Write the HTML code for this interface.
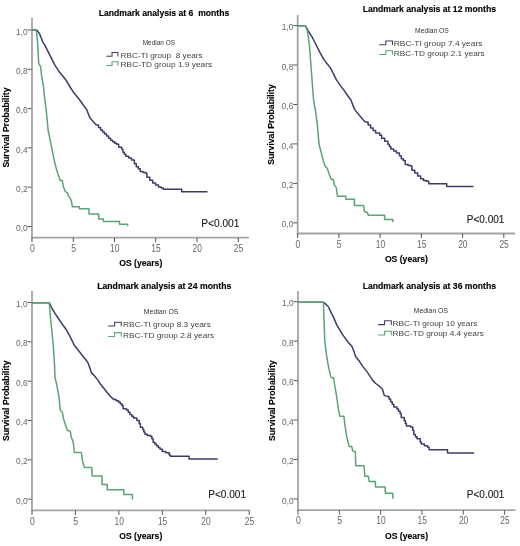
<!DOCTYPE html><html><head><meta charset="utf-8"><style>html,body{margin:0;padding:0;background:#fff;}svg{display:block;}text{font-family:"Liberation Sans",sans-serif;}</style></head><body>
<svg width="520" height="546" viewBox="0 0 520 546">
<defs><filter id="bl" x="0" y="0" width="1" height="1"><feGaussianBlur stdDeviation="0.4"/></filter></defs>
<rect width="520" height="546" fill="#fff"/>
<g filter="url(#bl)">
<line x1="32" y1="18" x2="32" y2="238.4" stroke="#a4a4a4" stroke-width="1.8"/>
<line x1="31.2" y1="237.6" x2="249" y2="237.6" stroke="#a4a4a4" stroke-width="1.8"/>
<line x1="27.5" y1="226.5" x2="31.5" y2="226.5" stroke="#555" stroke-width="1"/>
<text x="27.6" y="231.1" font-size="9.6" fill="#666" text-anchor="end" textLength="11.6" lengthAdjust="spacingAndGlyphs">0,0</text>
<line x1="27.5" y1="187.2" x2="31.5" y2="187.2" stroke="#555" stroke-width="1"/>
<text x="27.6" y="191.8" font-size="9.6" fill="#666" text-anchor="end" textLength="11.6" lengthAdjust="spacingAndGlyphs">0,2</text>
<line x1="27.5" y1="147.9" x2="31.5" y2="147.9" stroke="#555" stroke-width="1"/>
<text x="27.6" y="152.5" font-size="9.6" fill="#666" text-anchor="end" textLength="11.6" lengthAdjust="spacingAndGlyphs">0,4</text>
<line x1="27.5" y1="108.6" x2="31.5" y2="108.6" stroke="#555" stroke-width="1"/>
<text x="27.6" y="113.2" font-size="9.6" fill="#666" text-anchor="end" textLength="11.6" lengthAdjust="spacingAndGlyphs">0,6</text>
<line x1="27.5" y1="69.3" x2="31.5" y2="69.3" stroke="#555" stroke-width="1"/>
<text x="27.6" y="73.9" font-size="9.6" fill="#666" text-anchor="end" textLength="11.6" lengthAdjust="spacingAndGlyphs">0,8</text>
<line x1="27.5" y1="30" x2="31.5" y2="30" stroke="#555" stroke-width="1"/>
<text x="27.6" y="34.6" font-size="9.6" fill="#666" text-anchor="end" textLength="11.6" lengthAdjust="spacingAndGlyphs">1,0</text>
<line x1="32" y1="237.6" x2="32" y2="242.1" stroke="#555" stroke-width="1"/>
<text x="32.3" y="251.7" font-size="10.4" fill="#666" text-anchor="middle" textLength="4.8" lengthAdjust="spacingAndGlyphs">0</text>
<line x1="73.25" y1="237.6" x2="73.25" y2="242.1" stroke="#555" stroke-width="1"/>
<text x="73.55" y="251.7" font-size="10.4" fill="#666" text-anchor="middle" textLength="4.8" lengthAdjust="spacingAndGlyphs">5</text>
<line x1="114.5" y1="237.6" x2="114.5" y2="242.1" stroke="#555" stroke-width="1"/>
<text x="114.8" y="251.7" font-size="10.4" fill="#666" text-anchor="middle" textLength="9.4" lengthAdjust="spacingAndGlyphs">10</text>
<line x1="155.75" y1="237.6" x2="155.75" y2="242.1" stroke="#555" stroke-width="1"/>
<text x="156.05" y="251.7" font-size="10.4" fill="#666" text-anchor="middle" textLength="9.4" lengthAdjust="spacingAndGlyphs">15</text>
<line x1="197" y1="237.6" x2="197" y2="242.1" stroke="#555" stroke-width="1"/>
<text x="197.3" y="251.7" font-size="10.4" fill="#666" text-anchor="middle" textLength="9.4" lengthAdjust="spacingAndGlyphs">20</text>
<line x1="238.25" y1="237.6" x2="238.25" y2="242.1" stroke="#555" stroke-width="1"/>
<text x="238.55" y="251.7" font-size="10.4" fill="#666" text-anchor="middle" textLength="9.4" lengthAdjust="spacingAndGlyphs">25</text>
<text transform="translate(8.8,127.6) rotate(-90)" x="0" y="0" font-size="9" font-weight="bold" fill="#000" stroke="#000" stroke-width="0.12" text-anchor="middle" textLength="80" lengthAdjust="spacingAndGlyphs">Survival Probability</text>
<text x="119.2" y="265.8" font-size="8.6" font-weight="bold" fill="#000" stroke="#000" stroke-width="0.12" textLength="43.1" lengthAdjust="spacingAndGlyphs">OS (years)</text>
<text x="98.7" y="16.3" font-size="9" font-weight="bold" fill="#000" stroke="#000" stroke-width="0.15" textLength="130.5" lengthAdjust="spacingAndGlyphs">Landmark analysis at 6  months</text>
<text x="142.7" y="44.8" font-size="6.6" fill="#333" textLength="32.3" lengthAdjust="spacingAndGlyphs">Median OS</text>
<polyline points="106.3,56.3 112.03,56.3 112.03,52.5 117.9,52.5 117.9,56.6" fill="none" stroke="#3a3d66" stroke-width="1.05"/>
<text x="120.6" y="57.5" font-size="7.5" fill="#444" textLength="82" lengthAdjust="spacingAndGlyphs">RBC-TI group  8 years</text>
<polyline points="106.3,65.5 112.03,65.5 112.03,61.7 117.9,61.7 117.9,65.8" fill="none" stroke="#5aa474" stroke-width="1.05"/>
<text x="120.6" y="66.7" font-size="7.5" fill="#444" textLength="91.5" lengthAdjust="spacingAndGlyphs">RBC-TD group 1.9 years</text>
<text x="201.3" y="226.6" font-size="10" fill="#1a1a1a" stroke="#1a1a1a" stroke-width="0.12" textLength="38.1" lengthAdjust="spacingAndGlyphs">P&lt;0.001</text>
<polyline points="32,30 36.7,30 39.6,33.7 42.5,41.3 45.4,46.2 49.2,53.8 52.1,59.6 55,65.4 58.8,71.2 62.7,76 66.5,80.8 70.4,87.5 74.2,93.3 79,99 83.8,105.8 86.7,109.6 89.6,117.3 93.5,122.1 96.3,125 98.45,125 98.45,127.55 100.6,127.55 100.6,130.1 102.6,130.1 102.6,132.1 104.6,132.1 104.6,134.1 106.6,134.1 106.6,136.1 108.6,136.1 108.6,138.15 110.6,138.15 110.6,140.2 112.65,140.2 112.65,141.7 114.7,141.7 114.7,143.2 116.7,143.2 116.7,144.2 118.7,144.2 118.7,147.2 121.7,147.2 121.7,149.2 122.9,149.2 122.9,152.3 124.35,152.3 124.35,154.25 125.8,154.25 125.8,156.2 128.7,156.2 128.7,158.1 131.5,158.1 131.5,160 134.4,160 134.4,163.8 136.3,163.8 136.3,166.7 138.3,166.7 138.3,168.7 140.2,168.7 140.2,171.5 143.1,171.5 143.1,172.5 146,172.5 146,173.5 146.9,173.5 146.9,177.3 149.8,177.3 149.8,180.2 152.7,180.2 152.7,183.1 155.6,183.1 155.6,185 158.5,185 158.5,186.9 161.3,186.9 161.3,187.9 163.3,187.9 163.3,189.2 181.7,189.2 181.7,191.7 207.5,191.7" fill="none" stroke="#3a3d66" stroke-width="1.5" stroke-linejoin="round"/>
<polyline points="32,30 35.8,30 36.7,32.7 37.7,44.2 38.7,63.5 39.6,65.4 40.6,66.3 41.5,75 42.5,80.8 43.5,86.5 44.4,96.2 45.4,103.8 46.3,111.5 47.3,121.2 48.1,130.1 50.2,140.2 52.2,150.2 54.2,160.3 56.2,168.4 58.2,174.4 60.2,180.5 62.3,180.5 63.3,186.5 65.3,191.6 67.3,192.6 68.3,195.6 70.3,198.6 71.3,200.6 72.3,206.7 79.4,206.7 79.4,208.7 89,208.7 89,214 98.7,214 98.7,219 103.4,219 103.4,221.4 119.5,221.4 119.5,224.3 127.6,224.3 127.6,226.3" fill="none" stroke="#5aa474" stroke-width="1.5" stroke-linejoin="round"/>
<line x1="297.7" y1="15" x2="297.7" y2="234.3" stroke="#a4a4a4" stroke-width="1.8"/>
<line x1="296.9" y1="233.5" x2="515" y2="233.5" stroke="#a4a4a4" stroke-width="1.8"/>
<line x1="293.2" y1="222.8" x2="297.2" y2="222.8" stroke="#555" stroke-width="1"/>
<text x="293.3" y="227.4" font-size="9.6" fill="#666" text-anchor="end" textLength="11.6" lengthAdjust="spacingAndGlyphs">0,0</text>
<line x1="293.2" y1="183.36" x2="297.2" y2="183.36" stroke="#555" stroke-width="1"/>
<text x="293.3" y="187.96" font-size="9.6" fill="#666" text-anchor="end" textLength="11.6" lengthAdjust="spacingAndGlyphs">0,2</text>
<line x1="293.2" y1="143.92" x2="297.2" y2="143.92" stroke="#555" stroke-width="1"/>
<text x="293.3" y="148.52" font-size="9.6" fill="#666" text-anchor="end" textLength="11.6" lengthAdjust="spacingAndGlyphs">0,4</text>
<line x1="293.2" y1="104.48" x2="297.2" y2="104.48" stroke="#555" stroke-width="1"/>
<text x="293.3" y="109.08" font-size="9.6" fill="#666" text-anchor="end" textLength="11.6" lengthAdjust="spacingAndGlyphs">0,6</text>
<line x1="293.2" y1="65.04" x2="297.2" y2="65.04" stroke="#555" stroke-width="1"/>
<text x="293.3" y="69.64" font-size="9.6" fill="#666" text-anchor="end" textLength="11.6" lengthAdjust="spacingAndGlyphs">0,8</text>
<line x1="293.2" y1="25.6" x2="297.2" y2="25.6" stroke="#555" stroke-width="1"/>
<text x="293.3" y="30.2" font-size="9.6" fill="#666" text-anchor="end" textLength="11.6" lengthAdjust="spacingAndGlyphs">1,0</text>
<line x1="297.7" y1="233.5" x2="297.7" y2="238" stroke="#555" stroke-width="1"/>
<text x="298" y="247.6" font-size="10.4" fill="#666" text-anchor="middle" textLength="4.8" lengthAdjust="spacingAndGlyphs">0</text>
<line x1="338.92" y1="233.5" x2="338.92" y2="238" stroke="#555" stroke-width="1"/>
<text x="339.22" y="247.6" font-size="10.4" fill="#666" text-anchor="middle" textLength="4.8" lengthAdjust="spacingAndGlyphs">5</text>
<line x1="380.14" y1="233.5" x2="380.14" y2="238" stroke="#555" stroke-width="1"/>
<text x="380.44" y="247.6" font-size="10.4" fill="#666" text-anchor="middle" textLength="9.4" lengthAdjust="spacingAndGlyphs">10</text>
<line x1="421.36" y1="233.5" x2="421.36" y2="238" stroke="#555" stroke-width="1"/>
<text x="421.66" y="247.6" font-size="10.4" fill="#666" text-anchor="middle" textLength="9.4" lengthAdjust="spacingAndGlyphs">15</text>
<line x1="462.58" y1="233.5" x2="462.58" y2="238" stroke="#555" stroke-width="1"/>
<text x="462.88" y="247.6" font-size="10.4" fill="#666" text-anchor="middle" textLength="9.4" lengthAdjust="spacingAndGlyphs">20</text>
<line x1="503.8" y1="233.5" x2="503.8" y2="238" stroke="#555" stroke-width="1"/>
<text x="504.1" y="247.6" font-size="10.4" fill="#666" text-anchor="middle" textLength="9.4" lengthAdjust="spacingAndGlyphs">25</text>
<text transform="translate(274.2,124.5) rotate(-90)" x="0" y="0" font-size="9" font-weight="bold" fill="#000" stroke="#000" stroke-width="0.12" text-anchor="middle" textLength="80.6" lengthAdjust="spacingAndGlyphs">Survival Probability</text>
<text x="384.9" y="262" font-size="8.6" font-weight="bold" fill="#000" stroke="#000" stroke-width="0.12" textLength="43.1" lengthAdjust="spacingAndGlyphs">OS (years)</text>
<text x="362.7" y="12.1" font-size="9" font-weight="bold" fill="#000" stroke="#000" stroke-width="0.15" textLength="133.3" lengthAdjust="spacingAndGlyphs">Landmark analysis at 12 months</text>
<text x="415" y="32.7" font-size="6.6" fill="#333" textLength="33.9" lengthAdjust="spacingAndGlyphs">Median OS</text>
<polyline points="379.2,44.8 385.73,44.8 385.73,41 392.5,41 392.5,45.1" fill="none" stroke="#3a3d66" stroke-width="1.05"/>
<text x="393.8" y="46" font-size="7.5" fill="#444" textLength="88.6" lengthAdjust="spacingAndGlyphs">RBC-TI group 7.4 years</text>
<polyline points="379.2,54.5 385.73,54.5 385.73,50.7 392.5,50.7 392.5,54.8" fill="none" stroke="#5aa474" stroke-width="1.05"/>
<text x="393.8" y="55.7" font-size="7.5" fill="#444" textLength="90.9" lengthAdjust="spacingAndGlyphs">RBC-TD group 2.1 years</text>
<text x="466.8" y="222.9" font-size="10" fill="#1a1a1a" stroke="#1a1a1a" stroke-width="0.12" textLength="37.6" lengthAdjust="spacingAndGlyphs">P&lt;0.001</text>
<polyline points="297.7,25.8 305.6,25.8 308.5,31.5 312.3,37.3 316.2,45 320,52.7 323.8,59.4 326.7,63.3 330.6,68.1 333.5,73.8 336.3,79.6 340.2,85.4 344,90.2 347.9,96 350.8,99.8 352.7,104.6 354.6,109.4 358.5,114.2 363.3,120 365.6,122.1 368.1,122.1 368.1,125.1 370.6,125.1 370.6,128.1 373.1,128.1 373.1,130.6 375.6,130.6 375.6,133.1 379.7,133.1 379.7,135.2 381.7,135.2 381.7,138.2 384.7,138.2 384.7,141.2 387.9,141.2 387.9,144.2 389.35,144.2 389.35,146.6 390.8,146.6 390.8,149 393.7,149 393.7,151 396.5,151 396.5,152.9 399.4,152.9 399.4,155.8 401.3,155.8 401.3,158.7 403.3,158.7 403.3,160.6 405.2,160.6 405.2,164.4 408.1,164.4 408.1,165.4 411,165.4 411,166.3 411.9,166.3 411.9,170.2 414.8,170.2 414.8,173.1 417.7,173.1 417.7,176 420.6,176 420.6,178.8 423.5,178.8 423.5,180.4 426.3,180.4 426.3,181.2 428.8,181.2 428.8,183.7 446.7,183.7 446.7,186.5 473.5,186.5" fill="none" stroke="#3a3d66" stroke-width="1.5" stroke-linejoin="round"/>
<polyline points="297.7,25.8 305.6,25.8 307.5,31.5 309.4,45 310.4,58.5 311.3,70 312.3,83.5 313.3,96.9 314.2,104.6 315.2,108.5 316.2,116.2 317.2,123.1 318.2,135.2 319.2,145.2 321.2,152.3 323.2,160.4 325.2,166.4 327.3,168.4 329.3,174.5 331.3,179.5 333.3,179.5 334.3,184.6 336.3,187.6 337.5,196.3 345.8,196.3 345.8,199.2 354.4,199.2 354.4,205.4 363.5,205.4 364.5,211.7 367.3,212.5 368.3,215.2 384.6,215.2 384.6,219.4 392.9,219.4 392.9,221.9" fill="none" stroke="#5aa474" stroke-width="1.5" stroke-linejoin="round"/>
<line x1="32" y1="291" x2="32" y2="511.2" stroke="#a4a4a4" stroke-width="1.8"/>
<line x1="31.2" y1="510.4" x2="249.5" y2="510.4" stroke="#a4a4a4" stroke-width="1.8"/>
<line x1="27.5" y1="499.2" x2="31.5" y2="499.2" stroke="#555" stroke-width="1"/>
<text x="27.6" y="503.8" font-size="9.6" fill="#666" text-anchor="end" textLength="11.6" lengthAdjust="spacingAndGlyphs">0,0</text>
<line x1="27.5" y1="459.86" x2="31.5" y2="459.86" stroke="#555" stroke-width="1"/>
<text x="27.6" y="464.46" font-size="9.6" fill="#666" text-anchor="end" textLength="11.6" lengthAdjust="spacingAndGlyphs">0,2</text>
<line x1="27.5" y1="420.52" x2="31.5" y2="420.52" stroke="#555" stroke-width="1"/>
<text x="27.6" y="425.12" font-size="9.6" fill="#666" text-anchor="end" textLength="11.6" lengthAdjust="spacingAndGlyphs">0,4</text>
<line x1="27.5" y1="381.18" x2="31.5" y2="381.18" stroke="#555" stroke-width="1"/>
<text x="27.6" y="385.78" font-size="9.6" fill="#666" text-anchor="end" textLength="11.6" lengthAdjust="spacingAndGlyphs">0,6</text>
<line x1="27.5" y1="341.84" x2="31.5" y2="341.84" stroke="#555" stroke-width="1"/>
<text x="27.6" y="346.44" font-size="9.6" fill="#666" text-anchor="end" textLength="11.6" lengthAdjust="spacingAndGlyphs">0,8</text>
<line x1="27.5" y1="302.5" x2="31.5" y2="302.5" stroke="#555" stroke-width="1"/>
<text x="27.6" y="307.1" font-size="9.6" fill="#666" text-anchor="end" textLength="11.6" lengthAdjust="spacingAndGlyphs">1,0</text>
<line x1="32" y1="510.4" x2="32" y2="514.9" stroke="#555" stroke-width="1"/>
<text x="32.3" y="524.5" font-size="10.4" fill="#666" text-anchor="middle" textLength="4.8" lengthAdjust="spacingAndGlyphs">0</text>
<line x1="75.44" y1="510.4" x2="75.44" y2="514.9" stroke="#555" stroke-width="1"/>
<text x="75.74" y="524.5" font-size="10.4" fill="#666" text-anchor="middle" textLength="4.8" lengthAdjust="spacingAndGlyphs">5</text>
<line x1="118.88" y1="510.4" x2="118.88" y2="514.9" stroke="#555" stroke-width="1"/>
<text x="119.18" y="524.5" font-size="10.4" fill="#666" text-anchor="middle" textLength="9.4" lengthAdjust="spacingAndGlyphs">10</text>
<line x1="162.32" y1="510.4" x2="162.32" y2="514.9" stroke="#555" stroke-width="1"/>
<text x="162.62" y="524.5" font-size="10.4" fill="#666" text-anchor="middle" textLength="9.4" lengthAdjust="spacingAndGlyphs">15</text>
<line x1="205.76" y1="510.4" x2="205.76" y2="514.9" stroke="#555" stroke-width="1"/>
<text x="206.06" y="524.5" font-size="10.4" fill="#666" text-anchor="middle" textLength="9.4" lengthAdjust="spacingAndGlyphs">20</text>
<line x1="249.2" y1="510.4" x2="249.2" y2="514.9" stroke="#555" stroke-width="1"/>
<text x="249.5" y="524.5" font-size="10.4" fill="#666" text-anchor="middle" textLength="9.4" lengthAdjust="spacingAndGlyphs">25</text>
<text transform="translate(8.7,400.8) rotate(-90)" x="0" y="0" font-size="9" font-weight="bold" fill="#000" stroke="#000" stroke-width="0.12" text-anchor="middle" textLength="80.6" lengthAdjust="spacingAndGlyphs">Survival Probability</text>
<text x="119.2" y="538.6" font-size="8.6" font-weight="bold" fill="#000" stroke="#000" stroke-width="0.12" textLength="43.1" lengthAdjust="spacingAndGlyphs">OS (years)</text>
<text x="97.2" y="289.4" font-size="9" font-weight="bold" fill="#000" stroke="#000" stroke-width="0.15" textLength="134.1" lengthAdjust="spacingAndGlyphs">Landmark analysis at 24 months</text>
<text x="143.8" y="314.3" font-size="6.6" fill="#333" textLength="34.7" lengthAdjust="spacingAndGlyphs">Median OS</text>
<polyline points="108.1,326 114.59,326 114.59,322.2 121.3,322.2 121.3,326.3" fill="none" stroke="#3a3d66" stroke-width="1.05"/>
<text x="123.1" y="327.2" font-size="7.5" fill="#444" textLength="87.7" lengthAdjust="spacingAndGlyphs">RBC-TI group 8.3 years</text>
<polyline points="108.1,336.4 114.59,336.4 114.59,332.6 121.3,332.6 121.3,336.7" fill="none" stroke="#5aa474" stroke-width="1.05"/>
<text x="123.1" y="337.6" font-size="7.5" fill="#444" textLength="91.1" lengthAdjust="spacingAndGlyphs">RBC-TD group 2.8 years</text>
<text x="208.3" y="498.2" font-size="10" fill="#1a1a1a" stroke="#1a1a1a" stroke-width="0.12" textLength="37.7" lengthAdjust="spacingAndGlyphs">P&lt;0.001</text>
<polyline points="32,302.7 49.2,302.7 52.1,308.5 55,313.3 58.8,319 62.7,324.8 65.6,328.7 68.5,333.5 71.3,339.2 74.2,345 77.1,348.8 81,353.7 84.8,358.5 87.7,362.3 89.6,367.1 91.5,372.9 94.4,375.8 98.3,380.6 100,383.5 104.6,389.2 109.2,395 113.8,399.6 116.15,399.6 116.15,400.75 118.5,400.75 118.5,401.9 120.2,401.9 120.2,403.65 121.9,403.65 121.9,405.4 123.1,405.4 123.1,408.8 126.5,408.8 126.5,410 128.25,410 128.25,412.3 130,412.3 130,414.6 131.75,414.6 131.75,416.35 133.5,416.35 133.5,418.1 136.9,418.1 136.9,420.4 139.2,420.4 139.2,423.8 140.4,423.8 140.4,427.3 142.7,427.3 142.7,429.6 143.85,429.6 143.85,431.9 145,431.9 145,434.2 147.3,434.2 147.3,435.4 150.8,435.4 150.8,436.5 151.9,436.5 151.9,438.8 153.1,438.8 153.1,442.3 154.8,442.3 154.8,444.05 156.5,444.05 156.5,445.8 158.25,445.8 158.25,447.5 160,447.5 160,449.2 162.3,449.2 162.3,451.5 165.8,451.5 165.8,452.7 169.2,452.7 169.2,455 170.4,455 170.4,456.2 189,456.2 189,458.9 217.7,458.9" fill="none" stroke="#3a3d66" stroke-width="1.5" stroke-linejoin="round"/>
<polyline points="32,302.7 49.2,302.7 50.2,314.2 51.5,327.7 52.7,339.2 53.5,348.8 54.4,362.3 55,377.7 56,381.5 56.9,385.4 57.9,391.2 59.2,398.1 60.2,410.2 62.3,412.2 63.3,418.2 65.3,424.3 67.3,430.3 70.3,431.3 71.3,437.4 73.3,442.4 74.4,452.5 81.4,452.5 82.4,460.6 84.4,467.6 91.7,467.6 92.2,475.9 102,475.9 102,484.5 107.2,484.5 107.2,489.7 123.8,489.7 123.8,494.5 132.4,494.5 132.4,499.5" fill="none" stroke="#5aa474" stroke-width="1.5" stroke-linejoin="round"/>
<line x1="298" y1="291" x2="298" y2="511" stroke="#a4a4a4" stroke-width="1.8"/>
<line x1="297.2" y1="510.2" x2="515.4" y2="510.2" stroke="#a4a4a4" stroke-width="1.8"/>
<line x1="293.5" y1="498.9" x2="297.5" y2="498.9" stroke="#555" stroke-width="1"/>
<text x="293.6" y="503.5" font-size="9.6" fill="#666" text-anchor="end" textLength="11.6" lengthAdjust="spacingAndGlyphs">0,0</text>
<line x1="293.5" y1="459.46" x2="297.5" y2="459.46" stroke="#555" stroke-width="1"/>
<text x="293.6" y="464.06" font-size="9.6" fill="#666" text-anchor="end" textLength="11.6" lengthAdjust="spacingAndGlyphs">0,2</text>
<line x1="293.5" y1="420.02" x2="297.5" y2="420.02" stroke="#555" stroke-width="1"/>
<text x="293.6" y="424.62" font-size="9.6" fill="#666" text-anchor="end" textLength="11.6" lengthAdjust="spacingAndGlyphs">0,4</text>
<line x1="293.5" y1="380.58" x2="297.5" y2="380.58" stroke="#555" stroke-width="1"/>
<text x="293.6" y="385.18" font-size="9.6" fill="#666" text-anchor="end" textLength="11.6" lengthAdjust="spacingAndGlyphs">0,6</text>
<line x1="293.5" y1="341.14" x2="297.5" y2="341.14" stroke="#555" stroke-width="1"/>
<text x="293.6" y="345.74" font-size="9.6" fill="#666" text-anchor="end" textLength="11.6" lengthAdjust="spacingAndGlyphs">0,8</text>
<line x1="293.5" y1="301.7" x2="297.5" y2="301.7" stroke="#555" stroke-width="1"/>
<text x="293.6" y="306.3" font-size="9.6" fill="#666" text-anchor="end" textLength="11.6" lengthAdjust="spacingAndGlyphs">1,0</text>
<line x1="298" y1="510.2" x2="298" y2="514.7" stroke="#555" stroke-width="1"/>
<text x="298.3" y="524.3" font-size="10.4" fill="#666" text-anchor="middle" textLength="4.8" lengthAdjust="spacingAndGlyphs">0</text>
<line x1="339.32" y1="510.2" x2="339.32" y2="514.7" stroke="#555" stroke-width="1"/>
<text x="339.62" y="524.3" font-size="10.4" fill="#666" text-anchor="middle" textLength="4.8" lengthAdjust="spacingAndGlyphs">5</text>
<line x1="380.64" y1="510.2" x2="380.64" y2="514.7" stroke="#555" stroke-width="1"/>
<text x="380.94" y="524.3" font-size="10.4" fill="#666" text-anchor="middle" textLength="9.4" lengthAdjust="spacingAndGlyphs">10</text>
<line x1="421.96" y1="510.2" x2="421.96" y2="514.7" stroke="#555" stroke-width="1"/>
<text x="422.26" y="524.3" font-size="10.4" fill="#666" text-anchor="middle" textLength="9.4" lengthAdjust="spacingAndGlyphs">15</text>
<line x1="463.28" y1="510.2" x2="463.28" y2="514.7" stroke="#555" stroke-width="1"/>
<text x="463.58" y="524.3" font-size="10.4" fill="#666" text-anchor="middle" textLength="9.4" lengthAdjust="spacingAndGlyphs">20</text>
<line x1="504.6" y1="510.2" x2="504.6" y2="514.7" stroke="#555" stroke-width="1"/>
<text x="504.9" y="524.3" font-size="10.4" fill="#666" text-anchor="middle" textLength="9.4" lengthAdjust="spacingAndGlyphs">25</text>
<text transform="translate(274.8,400.55) rotate(-90)" x="0" y="0" font-size="9" font-weight="bold" fill="#000" stroke="#000" stroke-width="0.12" text-anchor="middle" textLength="81" lengthAdjust="spacingAndGlyphs">Survival Probability</text>
<text x="385" y="538.6" font-size="8.6" font-weight="bold" fill="#000" stroke="#000" stroke-width="0.12" textLength="43" lengthAdjust="spacingAndGlyphs">OS (years)</text>
<text x="362.7" y="288.5" font-size="9" font-weight="bold" fill="#000" stroke="#000" stroke-width="0.15" textLength="133.3" lengthAdjust="spacingAndGlyphs">Landmark analysis at 36 months</text>
<text x="413.8" y="313.2" font-size="6.6" fill="#333" textLength="34.2" lengthAdjust="spacingAndGlyphs">Median OS</text>
<polyline points="378.1,324.6 384.59,324.6 384.59,320.8 391.3,320.8 391.3,324.9" fill="none" stroke="#3a3d66" stroke-width="1.05"/>
<text x="392.6" y="325.8" font-size="7.5" fill="#444" textLength="84.7" lengthAdjust="spacingAndGlyphs">RBC-TI group 10 years</text>
<polyline points="378.1,335 384.59,335 384.59,331.2 391.3,331.2 391.3,335.3" fill="none" stroke="#5aa474" stroke-width="1.05"/>
<text x="392.6" y="336.2" font-size="7.5" fill="#444" textLength="91.2" lengthAdjust="spacingAndGlyphs">RBC-TD group 4.4 years</text>
<text x="466.8" y="498.2" font-size="10" fill="#1a1a1a" stroke="#1a1a1a" stroke-width="0.12" textLength="37.6" lengthAdjust="spacingAndGlyphs">P&lt;0.001</text>
<polyline points="298,302.3 323.5,302.3 325.8,304.2 328.1,306.5 329.6,309.4 331.5,313.3 333.5,317.1 335.4,321.9 337.3,325.8 340.2,330.6 343.1,335.4 346,339.2 348.8,343.1 351.7,346 353.7,350.8 355.6,356.5 359.4,361.3 363.3,367.1 367.1,371.9 371,377.7 372.9,380.6 375.8,383.5 379.6,386.3 382.5,389.2 384.2,395.4 387.4,396.4 389,396.4 389,399.05 390.6,399.05 390.6,401.7 392.2,401.7 392.2,404.35 393.8,404.35 393.8,407 396.9,407 396.9,409.1 398.5,409.1 398.5,411.25 400.1,411.25 400.1,413.4 401.2,413.4 401.2,417.6 404.3,417.6 404.3,420.8 405.35,420.8 405.35,423.45 406.4,423.45 406.4,426.1 410.7,426.1 410.7,427.1 412.8,427.1 412.8,430.3 413.8,430.3 413.8,434.5 415.4,434.5 415.4,436.65 417,436.65 417,438.8 420.2,438.8 420.2,441.9 421.3,441.9 421.3,444 424.4,444 424.4,445.7 427.6,445.7 427.6,447.2 429.1,447.2 429.1,449.8 447.5,449.8 447.5,452.9 474.1,452.9" fill="none" stroke="#3a3d66" stroke-width="1.5" stroke-linejoin="round"/>
<polyline points="298,302.3 323.5,302.3 323.8,314.2 324.4,329.6 324.8,341.2 325.8,348.8 326.7,356.5 327.7,362.3 329.2,370 330.6,375.8 331.5,377.7 333.5,377.7 334.4,383.5 335.4,389.2 337.2,400.1 338.2,408.1 339.8,416.2 343.9,416.2 344.8,423.9 346.6,436.1 348.3,443.1 349.2,446.6 351.8,446.6 352.6,450.9 355.3,451.8 355.8,465.7 364,465.7 364.8,476.2 368.3,476.2 369.2,481.4 375.3,481.4 375.6,487 385,487 385.4,493.2 392.8,493.2 393.1,498.9" fill="none" stroke="#5aa474" stroke-width="1.5" stroke-linejoin="round"/>
</g>
</svg></body></html>
